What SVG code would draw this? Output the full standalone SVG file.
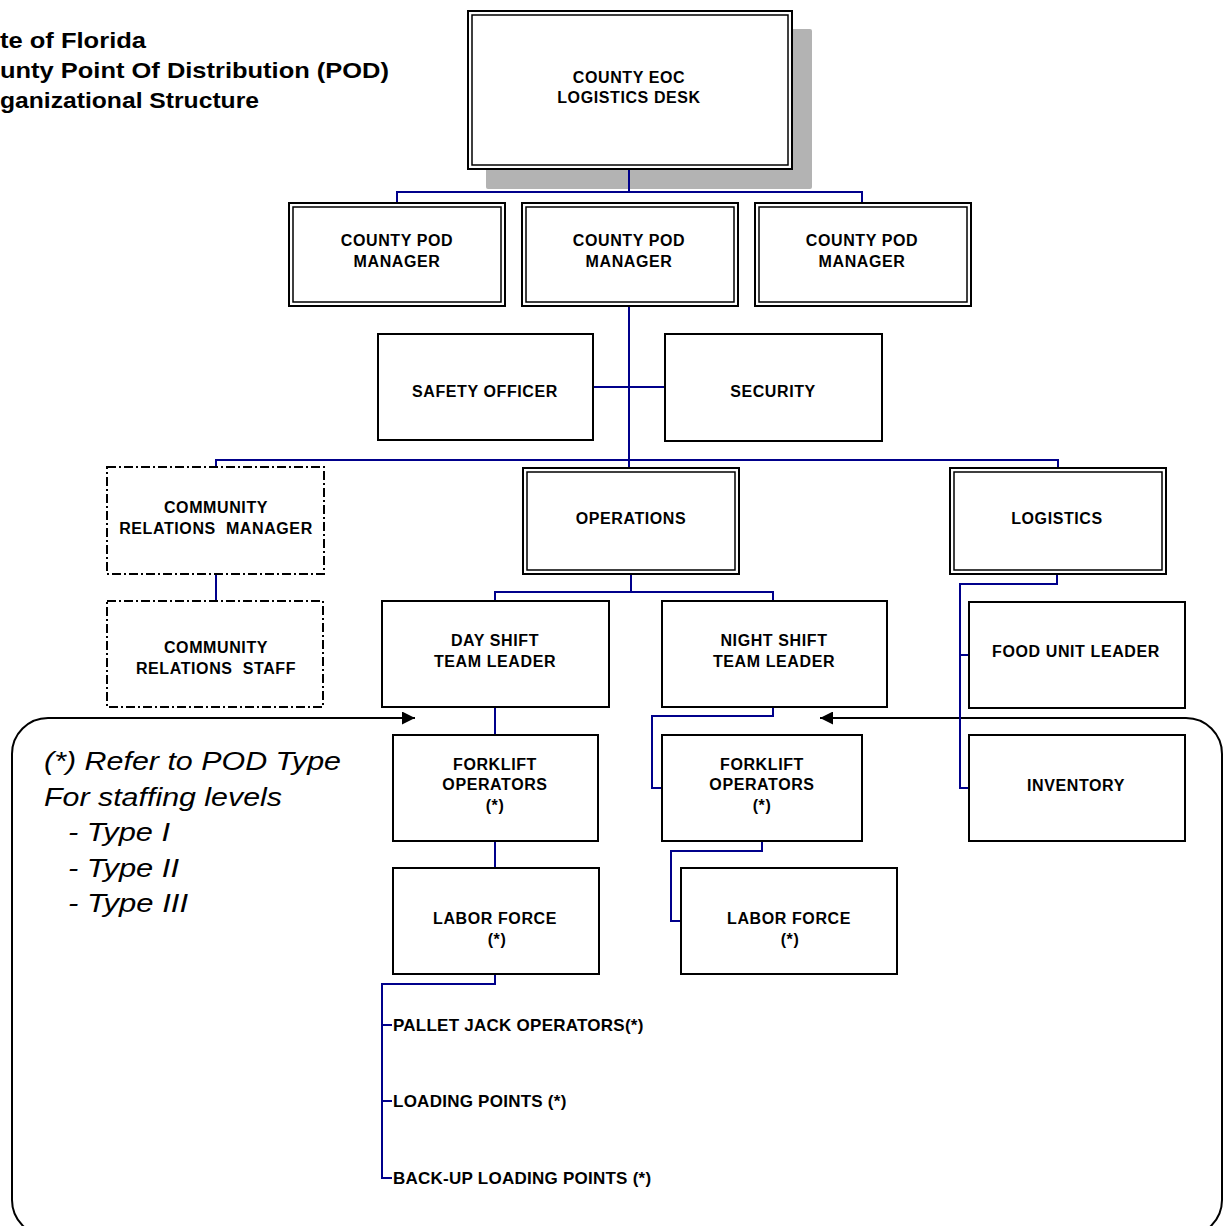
<svg xmlns="http://www.w3.org/2000/svg" width="1228" height="1226" viewBox="0 0 1228 1226">
  <style>
    .box { fill: #fff; stroke: #000; stroke-width: 2; }
    .inner { fill: none; stroke: #000; stroke-width: 1.5; }
    .dash { fill: #fff; stroke: #000; stroke-width: 2; stroke-dasharray: 9 3 2 3; }
    .conn { fill: none; stroke: #00008b; stroke-width: 2; }
    .frame { fill: none; stroke: #000; stroke-width: 2; }
    .lbl { font-family: "Liberation Sans", Arial, sans-serif; font-weight: bold; font-size: 16px; letter-spacing: 0.6px; text-anchor: middle; fill: #000; white-space: pre; }
    .item { font-family: "Liberation Sans", Arial, sans-serif; font-weight: bold; font-size: 17px; letter-spacing: 0.25px; fill: #000; }
    .title { font-family: "Liberation Sans", Arial, sans-serif; font-weight: bold; font-size: 22px; fill: #000; }
    .note { font-family: "Liberation Sans", Arial, sans-serif; font-style: italic; font-size: 25px; fill: #000; }
  </style>
  <defs>
    <marker id="arrow" viewBox="0 0 12 12" markerWidth="13" markerHeight="13" refX="12" refY="6" orient="auto" markerUnits="userSpaceOnUse">
      <path d="M0,0 L12,6 L0,12 z" fill="#000"/>
    </marker>
  </defs>

  <rect width="1228" height="1226" fill="#fff"/>

  <!-- title block -->
  <g id="title">
    <text class="title" x="0" y="48" textLength="146" lengthAdjust="spacingAndGlyphs">te of Florida</text>
    <text class="title" x="0" y="78" textLength="389" lengthAdjust="spacingAndGlyphs">unty Point Of Distribution (POD)</text>
    <text class="title" x="0" y="108" textLength="259" lengthAdjust="spacingAndGlyphs">ganizational Structure</text>
  </g>

  <!-- staffing note frame with arrows -->
  <g id="note-frame">
    <path class="frame" d="M48 1236 A36 36 0 0 1 12 1200 V754 A36 36 0 0 1 48 718 H415" marker-end="url(#arrow)"/>
    <path class="frame" d="M1186 1236 A36 36 0 0 0 1222 1200 V754 A36 36 0 0 0 1186 718 H820" marker-end="url(#arrow)"/>
  </g>
  <g id="note">
    <text class="note" x="44" y="770" textLength="297" lengthAdjust="spacingAndGlyphs">(*) Refer to POD Type</text>
    <text class="note" x="44" y="806" textLength="238" lengthAdjust="spacingAndGlyphs">For staffing levels</text>
    <text class="note" x="68" y="841" textLength="102" lengthAdjust="spacingAndGlyphs">- Type I</text>
    <text class="note" x="68" y="877" textLength="111" lengthAdjust="spacingAndGlyphs">- Type II</text>
    <text class="note" x="68" y="912" textLength="120" lengthAdjust="spacingAndGlyphs">- Type III</text>
  </g>

  <!-- EOC node with drop shadow -->
  <g id="county-eoc">
    <rect x="486" y="29" width="326" height="160" rx="2" fill="#b3b3b3"/>
    <rect class="box" x="468" y="11" width="324" height="158"/>
    <rect class="inner" x="472" y="15" width="316" height="150"/>
    <text class="lbl" x="629" y="83">COUNTY EOC</text>
    <text class="lbl" x="629" y="103">LOGISTICS DESK</text>
  </g>

  <!-- connectors -->
  <g id="connectors">
    <path class="conn" d="M629 170 V192 M397 202 V192 H862 V202"/>
    <path class="conn" d="M629 307 V468 M216 467 V460 H1058 V468"/>
    <path class="conn" d="M593 387 H665"/>
    <path class="conn" d="M216 574 V601"/>
    <path class="conn" d="M631 575 V592 M495 601 V592 H773 V601"/>
    <path class="conn" d="M1057 574 V584 H960 V788 H969 M960 655 H969"/>
    <path class="conn" d="M495 707 V735 M495 841 V868"/>
    <path class="conn" d="M773 707 V716 H652 V788 H662"/>
    <path class="conn" d="M762 841 V851 H671 V921 H681"/>
    <path class="conn" d="M495 974 V984 H382 V1178 H392 M382 1025 H392 M382 1101 H392"/>
  </g>

  <!-- county POD managers -->
  <g id="pod-manager-1">
    <rect class="box" x="289" y="203" width="216" height="103"/>
    <rect class="inner" x="293" y="207" width="208" height="95"/>
    <text class="lbl" x="397" y="246">COUNTY POD</text>
    <text class="lbl" x="397" y="267">MANAGER</text>
  </g>
  <g id="pod-manager-2">
    <rect class="box" x="522" y="203" width="216" height="103"/>
    <rect class="inner" x="526" y="207" width="208" height="95"/>
    <text class="lbl" x="629" y="246">COUNTY POD</text>
    <text class="lbl" x="629" y="267">MANAGER</text>
  </g>
  <g id="pod-manager-3">
    <rect class="box" x="755" y="203" width="216" height="103"/>
    <rect class="inner" x="759" y="207" width="208" height="95"/>
    <text class="lbl" x="862" y="246">COUNTY POD</text>
    <text class="lbl" x="862" y="267">MANAGER</text>
  </g>

  <g id="safety-officer">
    <rect class="box" x="378" y="334" width="215" height="106"/>
    <text class="lbl" x="485" y="397">SAFETY OFFICER</text>
  </g>
  <g id="security">
    <rect class="box" x="665" y="334" width="217" height="107"/>
    <text class="lbl" x="773" y="397">SECURITY</text>
  </g>

  <g id="community-relations-manager">
    <rect class="dash" x="107" y="467" width="217" height="107"/>
    <text class="lbl" x="216" y="513">COMMUNITY</text>
    <text class="lbl" x="216" y="534">RELATIONS  MANAGER</text>
  </g>
  <g id="community-relations-staff">
    <rect class="dash" x="107" y="601" width="216" height="106"/>
    <text class="lbl" x="216" y="653">COMMUNITY</text>
    <text class="lbl" x="216" y="674">RELATIONS  STAFF</text>
  </g>

  <g id="operations">
    <rect class="box" x="523" y="468" width="216" height="106"/>
    <rect class="inner" x="527" y="472" width="208" height="98"/>
    <text class="lbl" x="631" y="524">OPERATIONS</text>
  </g>
  <g id="logistics">
    <rect class="box" x="950" y="468" width="216" height="106"/>
    <rect class="inner" x="954" y="472" width="208" height="98"/>
    <text class="lbl" x="1057" y="524">LOGISTICS</text>
  </g>

  <g id="day-shift-leader">
    <rect class="box" x="382" y="601" width="227" height="106"/>
    <text class="lbl" x="495" y="646">DAY SHIFT</text>
    <text class="lbl" x="495" y="667">TEAM LEADER</text>
  </g>
  <g id="night-shift-leader">
    <rect class="box" x="662" y="601" width="225" height="106"/>
    <text class="lbl" x="774" y="646">NIGHT SHIFT</text>
    <text class="lbl" x="774" y="667">TEAM LEADER</text>
  </g>

  <g id="food-unit-leader">
    <rect class="box" x="969" y="602" width="216" height="106"/>
    <text class="lbl" x="1076" y="657">FOOD UNIT LEADER</text>
  </g>
  <g id="inventory">
    <rect class="box" x="969" y="735" width="216" height="106"/>
    <text class="lbl" x="1076" y="791">INVENTORY</text>
  </g>

  <g id="forklift-day">
    <rect class="box" x="393" y="735" width="205" height="106"/>
    <text class="lbl" x="495" y="770">FORKLIFT</text>
    <text class="lbl" x="495" y="790">OPERATORS</text>
    <text class="lbl" x="495" y="811">(*)</text>
  </g>
  <g id="forklift-night">
    <rect class="box" x="662" y="735" width="200" height="106"/>
    <text class="lbl" x="762" y="770">FORKLIFT</text>
    <text class="lbl" x="762" y="790">OPERATORS</text>
    <text class="lbl" x="762" y="811">(*)</text>
  </g>

  <g id="labor-day">
    <rect class="box" x="393" y="868" width="206" height="106"/>
    <text class="lbl" x="495" y="924">LABOR FORCE</text>
    <text class="lbl" x="497" y="945">(*)</text>
  </g>
  <g id="labor-night">
    <rect class="box" x="681" y="868" width="216" height="106"/>
    <text class="lbl" x="789" y="924">LABOR FORCE</text>
    <text class="lbl" x="790" y="945">(*)</text>
  </g>

  <g id="labor-roles">
    <text class="item" x="393" y="1031">PALLET JACK OPERATORS(*)</text>
    <text class="item" x="393" y="1107">LOADING POINTS (*)</text>
    <text class="item" x="393" y="1184">BACK-UP LOADING POINTS (*)</text>
  </g>
</svg>
